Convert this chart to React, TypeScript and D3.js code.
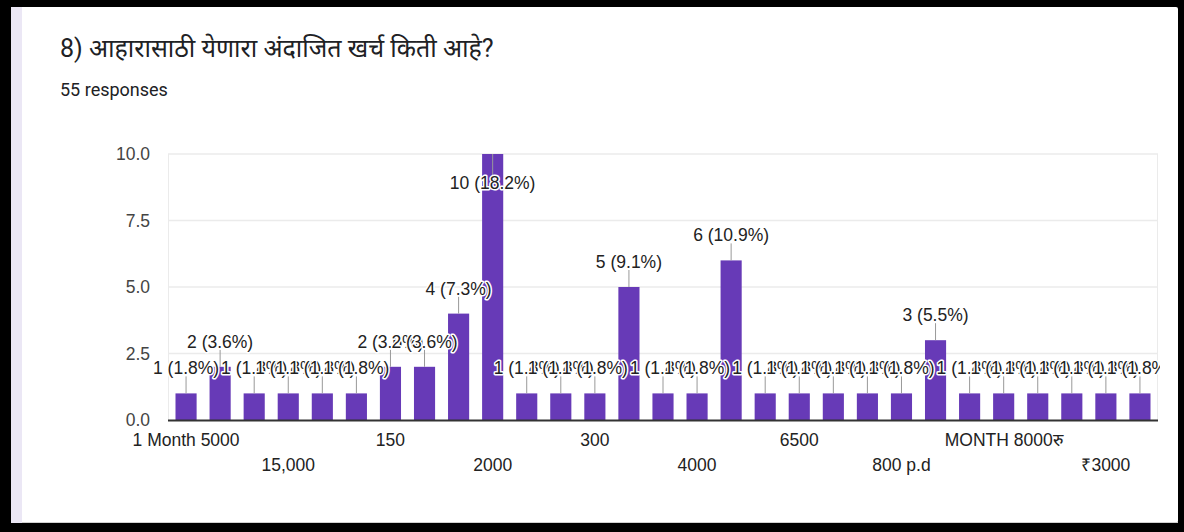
import React from "react";
import * as d3 from "d3";

const TITLE = "8) आहारासाठी येणारा अंदाजित खर्च किती आहे?";
const SUBTITLE = "55 responses";

const categories: string[] = [
  "1 Month 5000", "10000", "12000", "15,000", "15000", "15000 रु", "150", "1800", "20,000",
  "2000", "2500", "25000", "300", "3000", "3500", "4000", "5000", "6000",
  "6500", "7000", "800", "800 p.d", "8000", "9000", "MONTH 8000रु", "month 4000",
  "₹2000", "₹3000", "₹5000",
];
const counts: number[] = [
  1, 2, 1, 1, 1, 1, 2, 2, 4, 10, 1, 1, 1, 5, 1, 1, 6, 1, 1, 1, 1, 1, 3, 1, 1, 1, 1, 1, 1,
];
const yTicks: number[] = [0, 2.5, 5, 7.5, 10];
const totalResponses = 55;

const W = 1184;
const H = 532;
const M = { left: 168, right: 1158, top: 154, bottom: 420 };

export default function App() {
  const x = d3
    .scaleBand<string>()
    .domain(categories)
    .range([M.left, M.right])
    .paddingInner(0.38)
    .paddingOuter(0.22);
  const y = d3.scaleLinear().domain([0, 10]).range([M.bottom, M.top]);
  const fmt = d3.format(".1f");
  const bw = x.bandwidth();
  const font = "'Liberation Sans', Arial, sans-serif";
  const fs = 17.5;

  return (
    <div style={{ position: "fixed", left: 0, top: 0 }}>
      <svg width={W} height={H} style={{ display: "block" }}>
        <defs>
          <clipPath id="annClip">
            <rect x={100} y={100} width={M.right + 2 - 100} height={340} />
          </clipPath>
        </defs>
        <rect x={0} y={0} width={W} height={H} fill="#000" />
        <rect x={11} y={7} width={1167} height={516} fill="#fff" rx={2} />
        <rect x={11} y={7} width={11} height={516} fill="#ebe7f5" />
        <line x1={22} x2={1178} y1={522.5} y2={522.5} stroke="#d0d0d0" />

        <text x={60} y={57} fontFamily="Roboto, 'Noto Sans', 'Noto Sans Devanagari', sans-serif" fontSize={25} fill="#202124">
          {TITLE}
        </text>
        <text x={60} y={96} fontFamily="Roboto, sans-serif" fontSize={18} fill="#202124">
          {SUBTITLE}
        </text>

        {/* gridlines */}
        {yTicks.map((t) => (
          <g key={t}>
            {t > 0 && (
              <line x1={M.left} x2={M.right} y1={y(t)} y2={y(t)} stroke="#ebebeb" strokeWidth={1.5} />
            )}
            <text
              x={150}
              y={y(t) + 6}
              textAnchor="end"
              fontFamily={font}
              fontSize={fs}
              fill="#444"
            >
              {fmt(t)}
            </text>
          </g>
        ))}
        <line x1={M.left + 0.5} x2={M.left + 0.5} y1={M.top} y2={M.bottom} stroke="#ebebeb" />
        <line x1={M.right - 0.5} x2={M.right - 0.5} y1={M.top} y2={M.bottom} stroke="#ebebeb" />

        {/* bars */}
        {categories.map((c, i) => (
          <rect
            key={c}
            x={x(c)}
            y={y(counts[i])}
            width={bw}
            height={M.bottom - y(counts[i])}
            fill="#673ab7"
          />
        ))}

        <line x1={M.left} x2={M.right} y1={M.bottom + 0.5} y2={M.bottom + 0.5} stroke="#333" strokeWidth={2} />

        {/* annotations */}
        <g clipPath="url(#annClip)">
          {categories.map((c, i) => {
            const v = counts[i];
            const cx = (x(c) as number) + bw / 2;
            const top = y(v);
            const inside = top - 40 < M.top;
            const stemEnd = inside ? top + 21 : top - 17;
            const baseY = inside ? top + 35 : top - 19;
            const label = `${v} (${fmt((v / totalResponses) * 100)}%)`;
            return (
              <g key={"a" + c}>
                <line x1={cx} x2={cx} y1={top} y2={stemEnd} stroke="#999" strokeWidth={1} />
                <text
                  x={cx}
                  y={baseY}
                  textAnchor="middle"
                  fontFamily={font}
                  fontSize={fs}
                  fill="#222"
                  stroke="#fff"
                  strokeWidth={3}
                  paintOrder="stroke"
                  strokeLinejoin="round"
                >
                  {label}
                </text>
              </g>
            );
          })}
        </g>

        {/* category labels: every third, alternating rows */}
        {categories.map((c, i) => {
          if (i % 3 !== 0) return null;
          const row = (i / 3) % 2;
          const cx = (x(c) as number) + bw / 2;
          return (
            <text
              key={"l" + c}
              x={cx}
              y={row === 0 ? 446 : 471}
              textAnchor="middle"
              fontFamily={font}
              fontSize={fs}
              fill="#222"
            >
              {c}
            </text>
          );
        })}
      </svg>
    </div>
  );
}
